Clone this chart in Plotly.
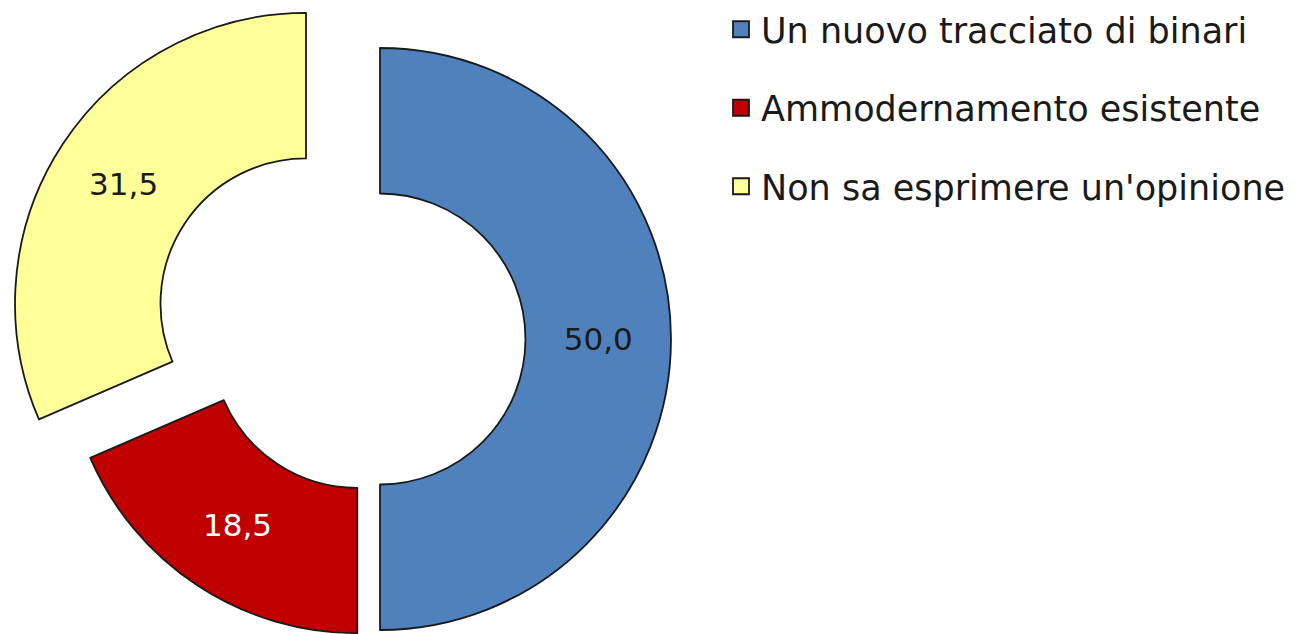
import math
import plotly.graph_objects as go

# ---- data ----
labels = ["Un nuovo tracciato di binari", "Ammodernamento esistente", "Non sa esprimere un'opinione"]
values = [50.0, 18.5, 31.5]
value_text = ["50,0", "18,5", "31,5"]

# ---- style ----
colors = ["#4f81bd", "#c00000", "#ffff99"]
text_colors = ["#1a1a1a", "#ffffff", "#1a1a1a"]
pull_px = [20.5, 4.0, 64.0]      # explode distance of each slice (px)
W, H = 1303, 634
cx0, cy0, R = 351.5, 331.0, 291.0
HOLE = 0.5
FONT = "DejaVu Sans"
EDGE = "#1a1a1a"
TRANSP = "rgba(0,0,0,0)"

fig = go.Figure()
total = sum(values)
cum = 0.0
for i, (lab, val) in enumerate(zip(labels, values)):
    mid = (cum + val / 2.0) / total * 2 * math.pi
    cum += val
    cx = cx0 + pull_px[i] * math.sin(mid)
    cy = cy0 - pull_px[i] * math.cos(mid)
    dom_x = [max(0, (cx - R) / W), min(1, (cx + R) / W)]
    dom_y = [max(0, 1 - (cy + R) / H), min(1, 1 - (cy - R) / H)]
    fills = [TRANSP] * len(values)
    fills[i] = colors[i]
    lcol = [TRANSP] * len(values)
    lcol[i] = EDGE
    lw = [0] * len(values)
    lw[i] = 1.8
    txt = [""] * len(values)
    txt[i] = value_text[i]
    fig.add_trace(go.Pie(
        labels=labels, values=values, text=txt, textinfo="text",
        textposition="inside", insidetextorientation="horizontal",
        textfont=dict(family=FONT, size=31, color=text_colors),
        sort=False, direction="clockwise", rotation=0, hole=HOLE,
        marker=dict(colors=fills, line=dict(color=lcol, width=lw)),
        domain=dict(x=dom_x, y=dom_y), showlegend=False, hoverinfo="none",
    ))

for i, lab in enumerate(labels):
    fig.add_trace(go.Scatter(
        x=[None], y=[None], mode="markers", name=lab, legendgroup=str(i),
        marker=dict(symbol="square", size=16, color=colors[i], line=dict(color=EDGE, width=1.8)),
    ))

fig.update_layout(
    width=W, height=H,
    margin=dict(l=0, r=0, t=0, b=0, autoexpand=False),
    paper_bgcolor="white", plot_bgcolor="white",
    xaxis=dict(visible=False), yaxis=dict(visible=False),
    legend=dict(x=713 / W, y=1 + 8 / H, xanchor="left", yanchor="top",
                font=dict(family=FONT, size=35, color="#1a1a1a"),
                traceorder="grouped", tracegroupgap=30, bgcolor=TRANSP),
)

fig.write_html("out.html")
